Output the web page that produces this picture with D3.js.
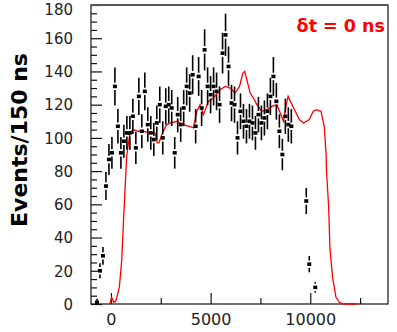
<!DOCTYPE html>
<html>
<head>
<meta charset="utf-8">
<script src="https://cdn.jsdelivr.net/npm/d3@7"></script>
<style>
html,body{margin:0;padding:0;background:#fff;}
svg{display:block;}
</style>
</head>
<body>
<svg id="chart" width="397" height="332"></svg>
<script>
// ---- data ----
const binStart = -700;      // centre of the first data bin (ns)
const binWidth = 150;       // ns per bin
const dataCounts = [1, 20, 29, 71, 87, 91, 131, 107, 91, 98,
  103, 103, 113, 94, 125, 104, 128, 108, 103, 99,
  109, 120, 100, 119, 120, 118, 91, 114, 108, 118,
  131, 127, 138, 107, 137, 118, 153, 131, 126, 131,
  128, 120, 151, 162, 143, 121, 120, 100, 116, 110,
  107, 110, 109, 103, 114, 109, 112, 116, 125, 137,
  122, 104, 90, 113, 108, 107, null, null, null, null,
  62, 24, null, 10];

const simTimes = [-50, 35, 150, 250, 420, 540, 630, 700, 790, 870, 955, 1120, 1360, 1620, 1910, 2210, 2330, 2410, 2580,
  2800, 3015, 3320, 3620, 3920, 4140, 4310, 4470, 4640, 4890, 5140, 5480, 5730, 5980, 6230, 6450, 6620, 6710,
  6820, 6985, 7150, 7320, 7570, 7820, 8080, 8330, 8490, 8660, 8790, 8890, 9080, 9250, 9450, 9660, 9950, 10150,
  10290, 10540, 10700, 10790, 10820, 10920, 10990, 11120, 11290, 11460, 11660, 12350];
const simValues = [0, 4, 1, 2, 10, 26, 50, 67, 89, 96, 103, 105, 104, 104, 103, 103, 97, 97, 103,
  108, 109, 110, 108, 107, 106, 116, 120, 114, 122, 124, 129, 131, 130, 127, 131, 139, 140,
  135, 127, 124, 120, 116, 117, 119, 120, 115, 110, 120, 125, 120, 116, 111, 109, 111, 116,
  117, 116, 107, 91, 79, 59, 33, 16, 4, 1, 0, 0];

const xMajorTicks = [0, 5000, 10000];
const xMinorTicks = [2500, 7500, 12500];
const yMajorTicks = [0, 20, 40, 60, 80, 100, 120, 140, 160, 180];
const yMinorTicks = d3.range(5, 180, 5).filter(v => v % 20 !== 0);
const yTitle = "Events/150 ns";
const legendText = "\u03b4t = 0 ns";

// ---- layout ----
const L = 91, R = 388, T = 5, B = 304;
const svg = d3.select("#chart");
const x = d3.scaleLinear().domain([-1000, 13900]).range([L, R]);
const y = d3.scaleLinear().domain([0, 180]).range([B, T]);

// axes
const yMaj = svg.append("g").attr("transform", `translate(${L},0)`)
  .call(d3.axisLeft(y).tickValues(yMajorTicks).tickSizeInner(-11).tickSizeOuter(0).tickPadding(18).tickFormat(d3.format("d")));
const yMin = svg.append("g").attr("transform", `translate(${L},0)`)
  .call(d3.axisLeft(y).tickValues(yMinorTicks).tickSizeInner(-6).tickSizeOuter(0).tickFormat(""));
const xMaj = svg.append("g").attr("transform", `translate(0,${B})`)
  .call(d3.axisBottom(x).tickValues(xMajorTicks).tickSizeInner(-11).tickSizeOuter(0).tickPadding(10).tickFormat(d3.format("d")));
const xMin = svg.append("g").attr("transform", `translate(0,${B})`)
  .call(d3.axisBottom(x).tickValues(xMinorTicks).tickSizeInner(-6).tickSizeOuter(0).tickFormat(""));
[yMaj, yMin, xMaj, xMin].forEach(g => {
  g.select(".domain").remove();
  g.selectAll("line").attr("stroke", "#111").attr("stroke-width", 1.2);
  g.selectAll("text").attr("fill", "#222").attr("font-family", "'DejaVu Sans', sans-serif");
});
yMaj.selectAll("text").attr("font-size", 15).attr("dy", "0.35em");
// keep the topmost label inside the picture
yMaj.selectAll("text").filter(d => d === 180).attr("y", 4);
xMaj.selectAll("text").attr("font-size", 16);

// frame
svg.append("rect").attr("x", L).attr("y", T).attr("width", R - L).attr("height", B - T)
  .attr("fill", "none").attr("stroke", "#111").attr("stroke-width", 1.2);
svg.append("line").attr("x1", L).attr("x2", R).attr("y1", T).attr("y2", T)
  .attr("stroke", "#555").attr("stroke-width", 2.2);

// simulation curve
const simData = simTimes.map((t, i) => [t, simValues[i]]);
svg.append("path").datum(simData)
  .attr("fill", "none").attr("stroke", "#ff0000").attr("stroke-width", 1.3)
  .attr("d", d3.line().x(d => x(d[0])).y(d => y(d[1])));

// data points with error bars
const pts = dataCounts.map((v, i) => ({t: binStart + i * binWidth, v})).filter(d => d.v !== null);
const gp = svg.append("g");
const half = 2.2;
gp.selectAll("line.up").data(pts).join("line")
  .attr("x1", d => x(d.t)).attr("x2", d => x(d.t))
  .attr("y1", d => y(d.v + Math.sqrt(d.v))).attr("y2", d => Math.min(y(d.v) - half - 1.5, y(d.v)))
  .attr("stroke", "#000").attr("stroke-width", 1.6);
gp.selectAll("line.dn").data(pts).join("line")
  .attr("x1", d => x(d.t)).attr("x2", d => x(d.t))
  .attr("y1", d => y(d.v) + half + 1.5).attr("y2", d => Math.max(y(Math.max(d.v - Math.sqrt(d.v), 0)), y(d.v) + half + 1.5))
  .attr("stroke", "#000").attr("stroke-width", 1.6);
gp.selectAll("rect").data(pts).join("rect")
  .attr("x", d => x(d.t) - 2).attr("y", d => y(d.v) - 1.8)
  .attr("width", 4).attr("height", 3.6).attr("fill", "#000");

// y title
svg.append("text")
  .attr("transform", "translate(27,140) rotate(-90)")
  .attr("text-anchor", "middle")
  .attr("font-family", "'DejaVu Sans', sans-serif").attr("font-weight", "bold")
  .attr("font-size", 22).attr("fill", "#000")
  .text(yTitle);

// legend text
svg.append("text")
  .attr("x", 385).attr("y", 31.5).attr("text-anchor", "end")
  .attr("font-family", "'DejaVu Sans', sans-serif").attr("font-weight", "bold")
  .attr("font-size", 17.5).attr("fill", "#ff0000")
  .text(legendText);
</script>
</body>
</html>
